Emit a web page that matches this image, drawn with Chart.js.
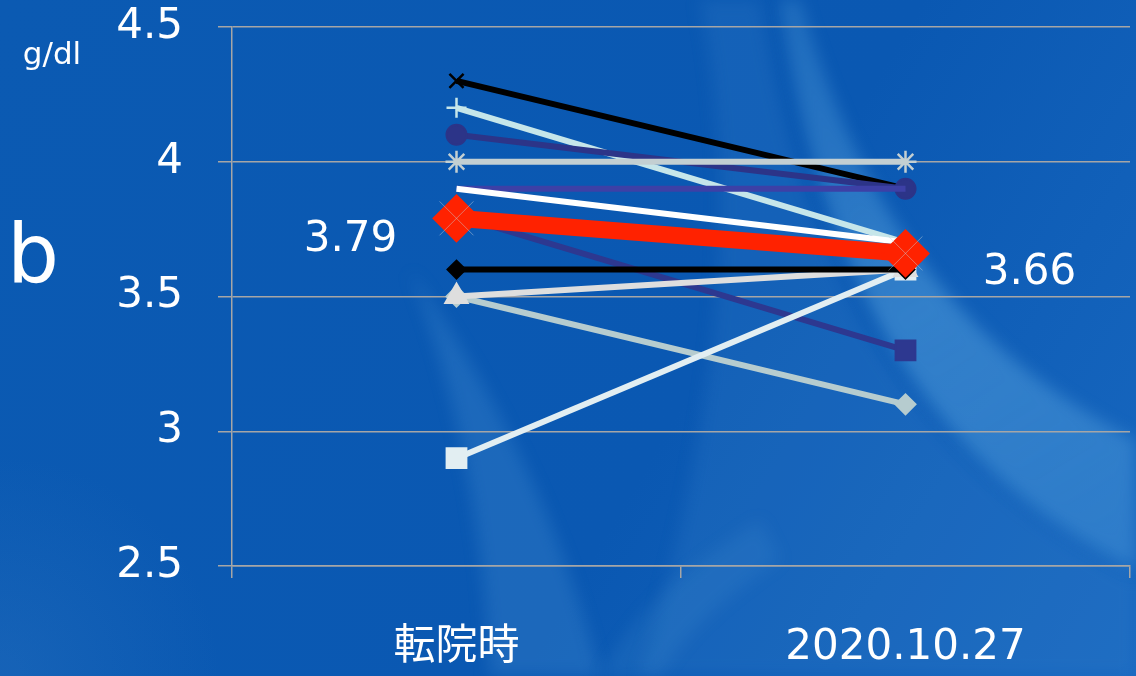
<!DOCTYPE html>
<html>
<head>
<meta charset="utf-8">
<script src="https://cdn.jsdelivr.net/npm/chart.js@4"></script>
<style>
  html, body { margin: 0; padding: 0; background: #0a5ab4; }
  #chart { display: block; }
</style>
</head>
<body>
<canvas id="chart" width="1136" height="676"></canvas>
<script>
const categories = ["転院時", "2020.10.27"];
const yTicks = [2.5, 3, 3.5, 4, 4.5];

// mean
const meanValues = [3.79, 3.66];

// individual patients
const p1 = [4.3, 3.9];
const p2 = [4.2, 3.7];
const p3 = [4.1, 3.9];
const p4 = [4.0, 4.0];
const p5 = [3.9, 3.7];
const p6 = [3.9, 3.9];
const p7 = [3.8, 3.3];
const p8 = [3.6, 3.6];
const p9 = [3.5, 3.6];
const p10 = [3.5, 3.1];
const p11 = [2.9, 3.6];

const FONT = "'DejaVu Sans', 'Noto Sans CJK JP', sans-serif";

function series(data, color, style, radius, extra) {
  return Object.assign({
    data,
    borderColor: color,
    backgroundColor: color,
    pointBackgroundColor: color,
    pointBorderColor: color,
    borderWidth: 6,
    pointStyle: style,
    pointRadius: radius,
    pointBorderWidth: 2,
    tension: 0
  }, extra || {});
}

// first entry ends up drawn on top
const datasets = [
  series(meanValues, "rgba(200,210,220,0.45)", "crossRot", 24, { showLine: false, pointBorderWidth: 1 }),
  series(meanValues, "#ff2200", "rectRot", 23, { borderWidth: 17 }),
  series(p5, "#ffffff", false, 0),
  series(p4, "#c3cfd2", "star", 11, { pointBorderWidth: 2.5 }),
  series(p6, "#3d40a6", false, 0),
  series(p3, "#2c3488", "circle", 10),
  series(p1, "#000000", "crossRot", 10, { pointBorderWidth: 2.5 }),
  series(p2, "#c6e6ea", "cross", 10, { pointBorderWidth: 2.5 }),
  series(p8, "#000000", "rectRot", 9),
  series(p9, "#dedede", "triangle", 13),
  series(p11, "#e2eef2", "rect", 14),
  series(p10, "#b6cccf", "rectRot", 10),
  series(p7, "#2d3890", "rect", 14)
];

// blue backdrop with soft lighter swirls
const backdrop = {
  id: "backdrop",
  beforeDraw(chart) {
    const ctx = chart.ctx;
    const w = chart.width, h = chart.height;
    ctx.save();
    const g = ctx.createLinearGradient(0, 0, w, h);
    g.addColorStop(0, "#0b5ab2");
    g.addColorStop(0.6, "#0a58b2");
    g.addColorStop(1, "#1868c0");
    ctx.fillStyle = g;
    ctx.fillRect(0, 0, w, h);

    ctx.filter = "blur(8px)";

    // medium glow below the right-hand crescent
    ctx.beginPath();
    ctx.moveTo(760, 0);
    ctx.bezierCurveTo(800, 260, 900, 460, 1136, 580);
    ctx.lineTo(1136, 676);
    ctx.lineTo(640, 676);
    ctx.bezierCurveTo(720, 420, 740, 200, 700, 0);
    ctx.closePath();
    ctx.fillStyle = "rgba(60,130,205,0.22)";
    ctx.fill();

    // right-hand crescent band
    ctx.beginPath();
    ctx.moveTo(800, 0);
    ctx.bezierCurveTo(860, 210, 960, 350, 1136, 440);
    ctx.lineTo(1136, 570);
    ctx.bezierCurveTo(930, 470, 820, 280, 780, 0);
    ctx.closePath();
    const g2 = ctx.createLinearGradient(800, 0, 1136, 560);
    g2.addColorStop(0, "rgba(110,185,235,0.22)");
    g2.addColorStop(0.5, "rgba(110,185,235,0.38)");
    g2.addColorStop(1, "rgba(110,185,235,0.28)");
    ctx.fillStyle = g2;
    ctx.fill();

    // thin crescent rising from the bottom middle
    ctx.beginPath();
    ctx.moveTo(410, 270);
    ctx.bezierCurveTo(460, 400, 485, 540, 490, 676);
    ctx.lineTo(600, 676);
    ctx.bezierCurveTo(560, 520, 500, 400, 410, 270);
    ctx.closePath();
    ctx.fillStyle = "rgba(100,170,225,0.2)";
    ctx.fill();

    // faint curve towards the bottom centre
    ctx.beginPath();
    ctx.moveTo(600, 676);
    ctx.bezierCurveTo(640, 600, 700, 560, 760, 520);
    ctx.lineTo(780, 560);
    ctx.bezierCurveTo(720, 600, 680, 640, 660, 676);
    ctx.closePath();
    ctx.fillStyle = "rgba(100,170,225,0.12)";
    ctx.fill();

    ctx.filter = "none";

    // lighter bottom-left corner
    const r3 = ctx.createRadialGradient(0, 676, 20, 0, 676, 220);
    r3.addColorStop(0, "rgba(60,130,200,0.22)");
    r3.addColorStop(1, "rgba(60,130,200,0)");
    ctx.fillStyle = r3;
    ctx.fillRect(0, 420, 260, 256);
    ctx.restore();
  }
};

// unit, panel letter and mean labels
const annotations = {
  id: "annotations",
  afterDatasetsDraw(chart) {
    const ctx = chart.ctx;
    const x = chart.scales.x, y = chart.scales.y;
    ctx.save();
    ctx.fillStyle = "#ffffff";
    ctx.textBaseline = "middle";
    ctx.textAlign = "center";
    ctx.font = "31px " + FONT;
    ctx.fillText("g/dl", 52, 56);
    ctx.font = "82px " + FONT;
    ctx.textAlign = "left";
    ctx.textBaseline = "alphabetic";
    ctx.fillText("b", 7, 282);

    ctx.font = "42px " + FONT;
    ctx.textAlign = "center";
    ctx.textBaseline = "middle";
    ctx.fillText(meanValues[0].toFixed(2), x.getPixelForValue(0) - 106, y.getPixelForValue(meanValues[0]) + 22);
    ctx.fillText(meanValues[1].toFixed(2), x.getPixelForValue(1) + 124, y.getPixelForValue(meanValues[1]) + 20);
    ctx.restore();
  }
};

new Chart(document.getElementById("chart"), {
  type: "line",
  data: { labels: categories, datasets },
  plugins: [backdrop, annotations],
  options: {
    responsive: false,
    animation: false,
    layout: { autoPadding: false, padding: { top: 27, right: 6, bottom: 0, left: 0 } },
    plugins: { legend: { display: false }, tooltip: { enabled: false } },
    scales: {
      x: {
        offset: true,
        grid: { offset: true, drawOnChartArea: false, drawTicks: true, tickLength: 12, color: "#a6a6a6", lineWidth: 1.5 },
        border: { color: "#a6a6a6", width: 1.5 },
        ticks: { color: "#ffffff", font: { size: 42, family: FONT }, padding: 45, maxRotation: 0 },
        afterFit(scale) {
          scale.height = 110;
          scale.paddingLeft = 0;
          scale.paddingRight = 0;
        }
      },
      y: {
        min: 2.5,
        max: 4.5,
        afterBuildTicks(scale) { scale.ticks = yTicks.map(v => ({ value: v })); },
        grid: { color: "#a6a6a6", lineWidth: 1.5, tickLength: 14 },
        border: { color: "#a6a6a6", width: 1.5 },
        ticks: { color: "#ffffff", font: { size: 42, family: FONT }, padding: 35, callback: v => String(v) },
        afterFit(scale) {
          scale.width = 232;
          scale.paddingTop = 0;
          scale.paddingBottom = 0;
        }
      }
    }
  }
});
</script>
</body>
</html>
